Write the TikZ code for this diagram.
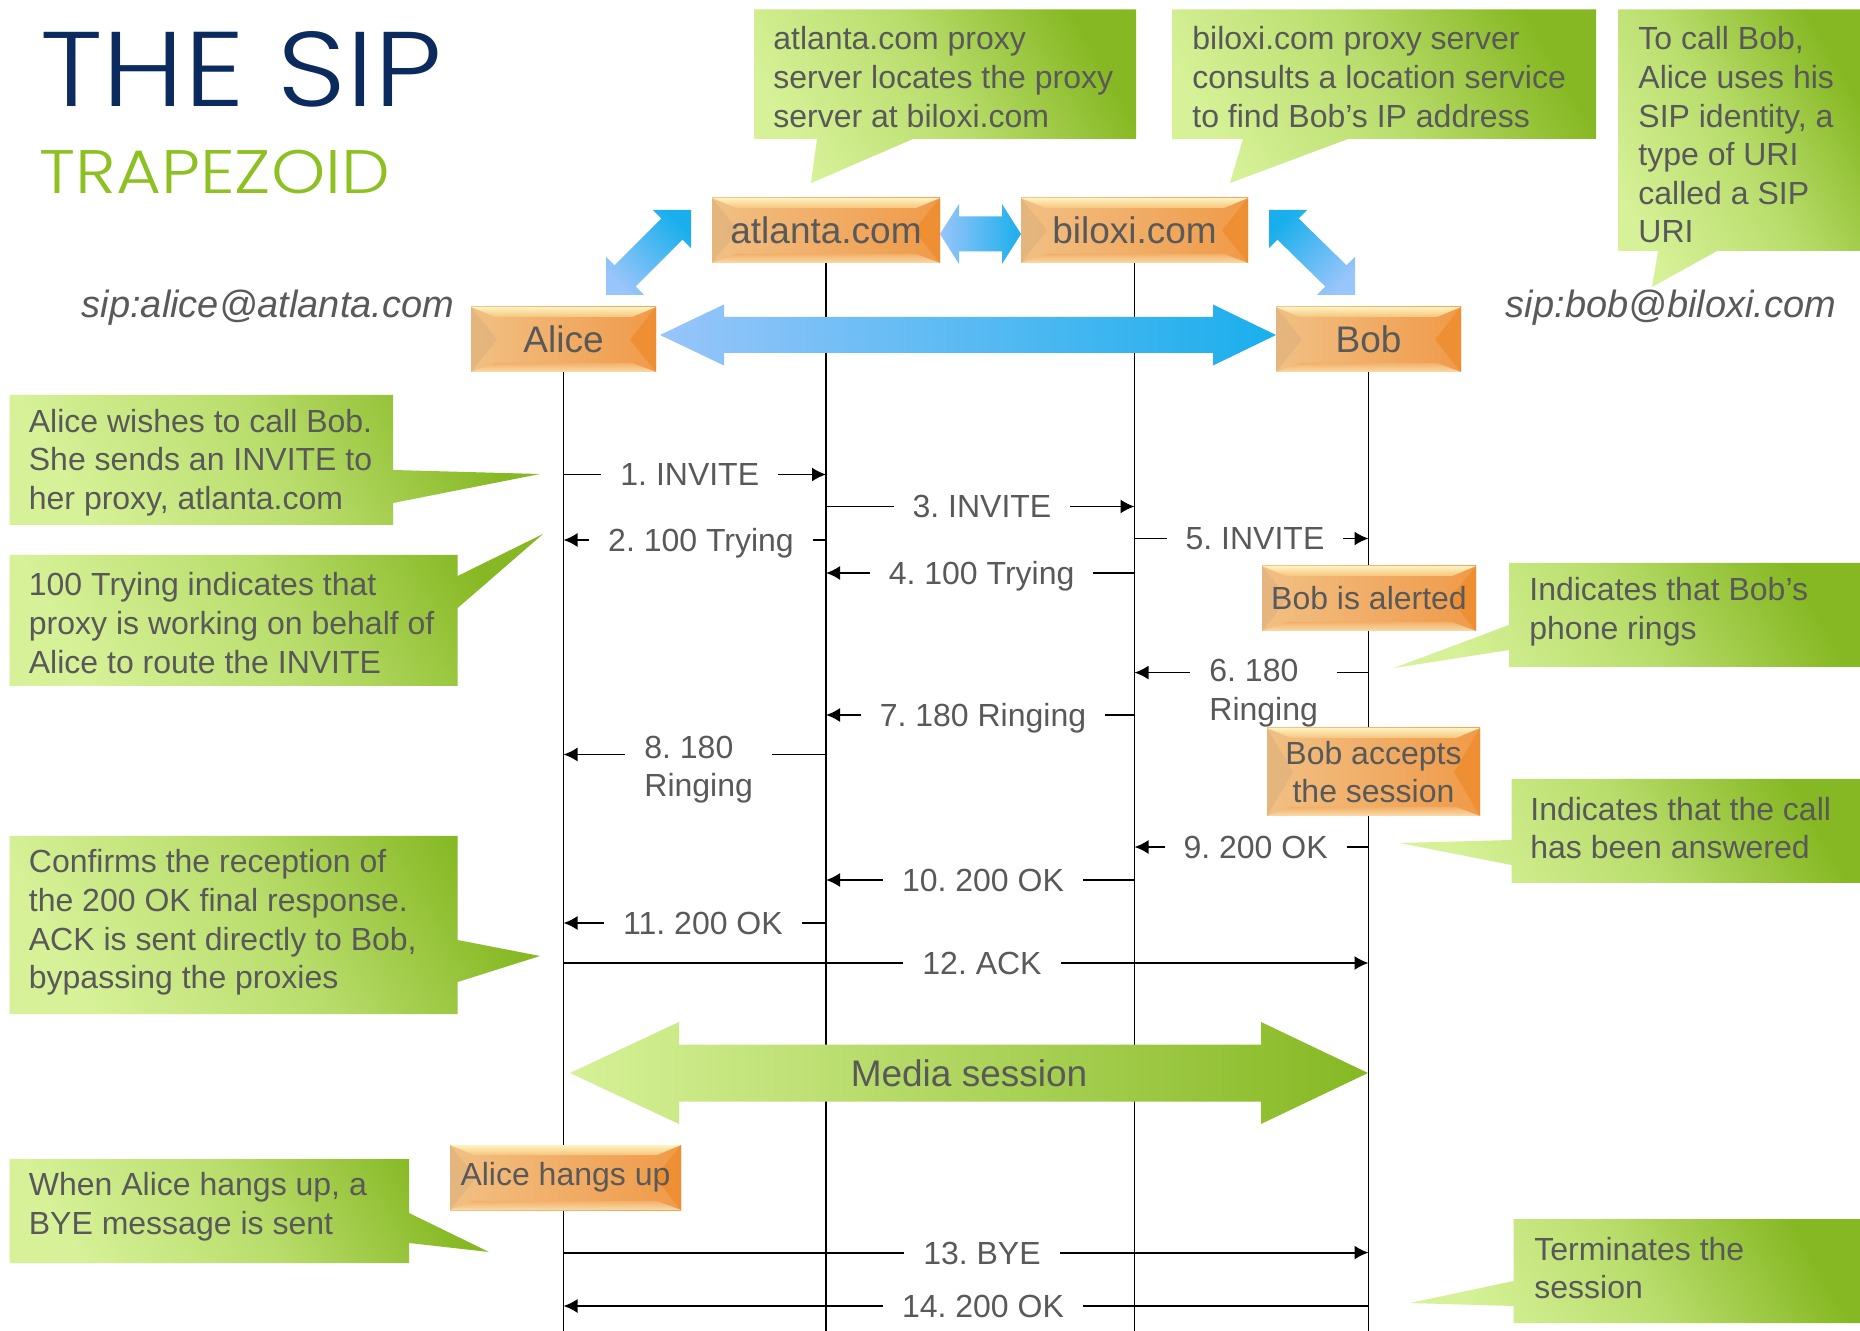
\documentclass[tikz,border=0pt]{standalone}
\usepackage{fontspec}
\setmainfont{Liberation Sans}
\newfontfamily\titlefont{Poppins Light}
\usetikzlibrary{arrows.meta,calc}
\pgfdeclarelayer{bg}
\pgfsetlayers{bg,main}
\frenchspacing

\definecolor{txt}{HTML}{595959}
\definecolor{navy}{HTML}{0B2A5E}
\definecolor{tgreen}{HTML}{8DC021}
\definecolor{gL}{HTML}{D6F197}
\definecolor{gM}{HTML}{B9DD6C}
\definecolor{gD}{HTML}{86B823}
\definecolor{bL}{HTML}{98C5FA}
\definecolor{bD}{HTML}{1AAFEC}
\definecolor{oBaseL}{HTML}{F1C084}
\definecolor{oBaseR}{HTML}{F09A48}
\definecolor{oTop}{HTML}{FEF3C0}
\definecolor{oTopIn}{HTML}{F6C47C}
\definecolor{oBotIn}{HTML}{F3B06A}
\definecolor{oBot}{HTML}{FADCAA}
\definecolor{oLeft}{HTML}{E0B27C}
\definecolor{oRight}{HTML}{EE8C2E}

\newcommand\fsz[2]{\fontsize{#1}{#2}\selectfont}
\def\ppb{path picture bounding box}

\tikzset{
  lifeline/.style={line width=0.8pt, black},
  msg/.style={line width=0.9pt, black, -{Latex[length=7pt,width=7pt]}},
  lbl/.style={fill=white, text=txt, font=\fsz{16pt}{19.3pt}, inner xsep=9.5pt,
    inner ysep=1pt, anchor=base, yshift=-5.7pt, text height=12pt, text depth=3.5pt},
  lbltwo/.style={fill=white, text=txt, font=\fsz{16pt}{19.3pt}, inner xsep=9.5pt,
    inner ysep=0pt, align=left, anchor=north west},
  gcall/.style={shading=axis, bottom color=gL, top color=gD, middle color=gM, shading angle=-60},
  ctext/.style={anchor=west, align=left, text=txt, font=\fsz{16pt}{19.3pt}, inner sep=0pt},
  bluearrow/.style={shading=axis, bottom color=bL, top color=bD},
  uri/.style={text=txt, font=\itshape\fsz{19pt}{21pt}, inner sep=0pt},
  obox/.style={rectangle, inner sep=0pt, align=center, text=txt, font=\fsz{16pt}{19.3pt},
    path picture={
      \shade[left color=oBaseL, right color=oBaseR] (\ppb.south west) rectangle (\ppb.north east);
      \shade[top color=oTop, bottom color=oTopIn] (\ppb.north west) -- (\ppb.north east)
        -- ($(\ppb.north east)+(-24,10)$) -- ($(\ppb.north west)+(24,10)$) -- cycle;
      \shade[top color=oBotIn, bottom color=oBot] (\ppb.south west) -- (\ppb.south east)
        -- ($(\ppb.south east)+(-24,-9)$) -- ($(\ppb.south west)+(24,-9)$) -- cycle;
      \fill[oLeft, opacity=.75] (\ppb.north west) -- ($(\ppb.west)+(26,0)$) -- (\ppb.south west) -- cycle;
      \fill[oRight, opacity=.8] (\ppb.north east) -- ($(\ppb.east)+(-26,0)$) -- (\ppb.south east) -- cycle;
    }},
  bigbox/.style={obox, font=\fsz{18.5pt}{22pt}}
}

\begin{document}
\begin{tikzpicture}[x=0.5pt,y=-0.5pt]
\useasboundingbox (0,0) rectangle (1860,1331);
\begin{pgfonlayer}{bg}
\fill[white] (0,0) rectangle (1860,1331);
\end{pgfonlayer}

% ---------- title ----------
\node[anchor=south west, inner sep=0pt, text=navy] (title) at (40,107.3)
  {\resizebox{200.8pt}{37.5pt}{\titlefont THE SIP}};
\node[anchor=south west, inner sep=0pt, text=tgreen] (subtitle) at (39.3,194)
  {\resizebox{175.3pt}{21.7pt}{\titlefont TRAPEZOID}};

% ---------- participants and proxies ----------
\node[bigbox, minimum width=114pt, minimum height=32.5pt] (atl) at (826,230.5) {atlanta.com};
\node[bigbox, minimum width=113.5pt, minimum height=32.5pt] (bil) at (1134.5,230.5) {biloxi.com};
\node[bigbox, minimum width=92.5pt, minimum height=32.5pt] (alice) at (563.5,339.5) {Alice};
\node[bigbox, minimum width=92.5pt, minimum height=32.5pt] (bob) at (1368.5,339.5) {Bob};

\node[uri] (aliceuri) at (268,308) {sip:alice@atlanta.com};
\node[uri] (boburi) at (1671,308) {sip:bob@biloxi.com};

% ---------- events on the lifelines ----------
\node[obox, minimum width=107pt, minimum height=32.5pt] (alert) at (1369,598.5) {Bob is alerted};
\node[obox, minimum width=106.5pt, minimum height=44pt] (accept) at (1373.5,772) {Bob accepts\\the session};
\node[obox, minimum width=115.5pt, minimum height=32.5pt] (hang) at (565.5,1177.5) {Alice hangs up};

% ---------- lifelines ----------
\coordinate (aliceEnd) at (563.5,1331);
\coordinate (atlEnd) at (826,1331);
\coordinate (bilEnd) at (1134.5,1331);
\coordinate (bobEnd) at (1368.5,1331);
\begin{pgfonlayer}{bg}
\draw[lifeline] (alice.south) -- (aliceEnd);
\draw[lifeline] (atl.south) -- (atlEnd);
\draw[lifeline] (bil.south) -- (bilEnd);
\draw[lifeline] (bob.south) -- (bobEnd);
\end{pgfonlayer}

% ---------- messages ----------
\foreach \n/\y in {1/474.5,2/540,3/506.5,4/573,5/538.5,6/672.6,7/715,8/754.5,9/847,10/880,11/923,12/963,13/1252.6,14/1306}
  \coordinate (m\n) at (0,\y);
\begin{pgfonlayer}{bg}
\draw[msg] (alice |- m1) -- (atl |- m1);
\draw[msg] (atl |- m2) -- (alice |- m2);
\draw[msg] (atl |- m3) -- (bil |- m3);
\draw[msg] (bil |- m4) -- (atl |- m4);
\draw[msg] (bil |- m5) -- (bob |- m5);
\draw[msg] (bob |- m6) -- (bil |- m6);
\draw[msg] (bil |- m7) -- (atl |- m7);
\draw[msg] (atl |- m8) -- (alice |- m8);
\draw[msg] (bob |- m9) -- (bil |- m9);
\draw[msg] (bil |- m10) -- (atl |- m10);
\draw[msg] (atl |- m11) -- (alice |- m11);
\draw[msg] (alice |- m12) -- (bob |- m12);
\draw[msg] (alice |- m13) -- (bob |- m13);
\draw[msg] (bob |- m14) -- (alice |- m14);
\end{pgfonlayer}
\node[lbl] (l1) at (689.8,474.5) {1. INVITE};
\node[lbl] (l2) at (701,540) {2. 100 Trying};
\node[lbl] (l3) at (982,506.5) {3. INVITE};
\node[lbl] (l4) at (981.6,573) {4. 100 Trying};
\node[lbl] (l5) at (1255,538.5) {5. INVITE};
\node[lbltwo] (l6) at (1190,659) {6. 180\\Ringing};
\node[lbl] (l7) at (983,715) {7. 180 Ringing};
\node[lbltwo] (l8) at (625,735.5) {8. 180\\Ringing};
\node[lbl] (l9) at (1255.6,847) {9. 200 OK};
\node[lbl] (l10) at (983,880) {10. 200 OK};
\node[lbl] (l11) at (703,923) {11. 200 OK};
\node[lbl] (l12) at (982,963) {12. ACK};
\node[lbl] (l13) at (982,1252.6) {13. BYE};
\node[lbl] (l14) at (983,1306) {14. 200 OK};

% ---------- signalling and media arrows ----------
\shade[left color=bL, right color=bD] (660,335) -- (724,304.5) -- (724,317) -- (1213,317) -- (1213,304.5)
  -- (1276,335) -- (1213,365.5) -- (1213,353) -- (724,353) -- (724,365.5) -- cycle;
\shade[left color=bL, right color=bD] (940,234) -- (959,204) -- (959,216.5) -- (1002,216.5) -- (1002,204)
  -- (1021,234) -- (1002,264) -- (1002,251.5) -- (959,251.5) -- (959,264) -- cycle;
\shade[bluearrow, shading angle=-45] (606,295) -- (644.2,295) -- (635.7,286.5) -- (682.5,239.7) -- (691,248.2)
  -- (691,210) -- (652.8,210) -- (661.3,218.5) -- (614.5,265.3) -- (606,256.8) -- cycle;
\shade[bluearrow, shading angle=45] (1269,210) -- (1307.2,210) -- (1298.7,218.5) -- (1346.5,265.3) -- (1355,256.8)
  -- (1355,295) -- (1316.8,295) -- (1325.3,286.5) -- (1277.5,239.7) -- (1269,248.2) -- cycle;
\shade[left color=gL, middle color=gM, right color=gD] (570,1073) -- (679,1022) -- (679,1044.5) -- (1261,1044.5)
  -- (1261,1022) -- (1368,1073) -- (1261,1124) -- (1261,1101.5) -- (679,1101.5) -- (679,1124) -- cycle;
\node[text=txt, font=\fsz{18.5pt}{22pt}, inner sep=0pt] (media) at (969,1073) {Media session};

% ---------- callouts ----------
\shade[gcall] (754,9.5) -- (1136,9.5) -- (1136,139) -- (913,139) -- (811,183) -- (817,139) -- (754,139) -- cycle;
\node[ctext] (cA) at (773,77) {atlanta.com proxy\\server locates the proxy\\server at biloxi.com};

\shade[gcall] (1172,9.5) -- (1596,9.5) -- (1596,139) -- (1348,139) -- (1230,183) -- (1243,139) -- (1172,139) -- cycle;
\node[ctext] (cB) at (1192,77) {biloxi.com proxy server\\consults a location service\\to find Bob’s IP address};

\shade[gcall] (1618,9.5) -- (1860,9.5) -- (1860,251) -- (1717,251) -- (1652,287) -- (1658,251) -- (1618,251) -- cycle;
\node[ctext] (cC) at (1638,135) {To call Bob,\\Alice uses his\\SIP identity, a\\type of URI\\called a SIP\\URI};

\shade[gcall] (9.5,395) -- (393,395) -- (393,470) -- (540,474) -- (393,503) -- (393,525) -- (9.5,525) -- cycle;
\node[ctext] (cD) at (28.5,462.6) {Alice wishes to call Bob.\\She sends an INVITE to\\her proxy, atlanta.com};

\shade[gcall] (9.5,555) -- (457.7,555) -- (457.7,576) -- (543,534) -- (457.7,608) -- (457.7,686) -- (9.5,686) -- cycle;
\node[ctext] (cE) at (28.5,623) {100 Trying indicates that\\proxy is working on behalf of\\Alice to route the INVITE};

\shade[gcall] (9.5,836) -- (457.7,836) -- (457.7,940) -- (540,956) -- (457.7,982) -- (457.7,1014) -- (9.5,1014) -- cycle;
\node[ctext] (cF) at (28.5,922.5) {Confirms the reception of\\the 200 OK final response.\\ACK is sent directly to Bob,\\bypassing the proxies};

\shade[gcall] (9.5,1159) -- (409,1159) -- (409,1213) -- (489,1252) -- (409,1243) -- (409,1263) -- (9.5,1263) -- cycle;
\node[ctext] (cG) at (28.5,1207) {When Alice hangs up, a\\BYE message is sent};

\shade[gcall] (1509,563) -- (1860,563) -- (1860,667) -- (1509,667) -- (1509,650) -- (1394,668) -- (1509,625) -- cycle;
\node[ctext] (cH) at (1529,612) {Indicates that Bob’s\\phone rings};

\shade[gcall] (1511.5,779) -- (1860,779) -- (1860,883) -- (1511.5,883) -- (1511.5,865) -- (1400,843) -- (1511.5,840) -- cycle;
\node[ctext] (cI) at (1530,828) {Indicates that the call\\has been answered};

\shade[gcall] (1513.6,1219) -- (1860,1219) -- (1860,1323) -- (1513.6,1323) -- (1513.6,1306) -- (1410,1303) -- (1513.6,1281) -- cycle;
\node[ctext] (cJ) at (1534,1268) {Terminates the\\session};
\end{tikzpicture}
\end{document}
